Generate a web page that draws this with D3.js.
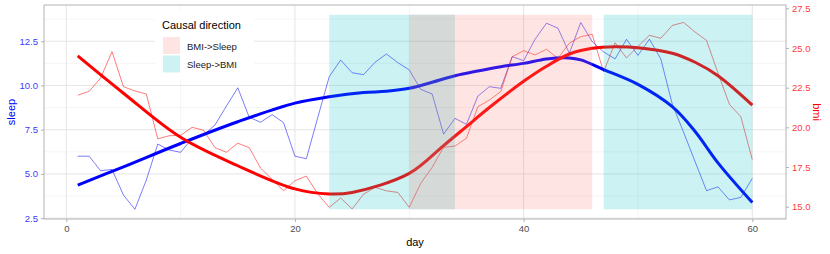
<!DOCTYPE html>
<html>
<head>
<meta charset="utf-8">
<script src="https://cdn.jsdelivr.net/npm/d3@7"></script>
<style>
  body { margin: 0; background: #fff; }
  text { font-family: "Liberation Sans", Arial, sans-serif; }
</style>
</head>
<body>
<script>
var w = 830;
var h = 254;

// raw daily values, day 1..60
var days = d3.range(1, 61);
var sleep = [6.0, 6.0, 5.18, 5.25, 3.8, 3.0, 4.65, 6.69, 6.35, 6.22,
    7.0, 7.2, 7.76, 8.83, 9.87, 8.2, 7.92, 8.35, 7.9, 6.0,
    5.86, 8.2, 10.5, 11.44, 10.72, 10.61, 11.31, 11.78, 11.29, 10.88,
    9.78, 9.52, 7.25, 8.14, 7.8, 9.4, 9.93, 9.84, 11.63, 11.4,
    12.61, 13.52, 13.24, 11.82, 13.56, 12.48, 11.9, 11.5, 12.61, 11.7,
    12.62, 11.5, 8.95, 7.34, 5.69, 4.05, 4.27, 3.53, 3.67, 4.75];
var bmi = [22.02, 22.27, 23.1, 24.77, 22.56, 22.29, 22.1, 19.28, 19.47, 19.5,
    20.0, 19.82, 18.72, 18.43, 19.0, 18.72, 17.42, 16.73, 16.0, 16.64,
    16.93, 15.8, 14.96, 15.55, 14.86, 15.78, 16.22, 16.0, 15.9, 14.96,
    16.47, 17.48, 18.74, 18.82, 19.31, 21.3, 21.72, 22.25, 24.45, 24.83,
    24.56, 24.92, 24.35, 25.3, 25.71, 25.86, 23.5, 25.33, 24.37, 25.1,
    25.8, 25.61, 26.42, 26.61, 26.0, 25.48, 23.42, 21.45, 20.67, 17.97];

// smoothed trends
var sleepSmoothDays = [1, 5, 10, 15, 20, 23, 26, 28, 30, 32, 34, 36, 38, 40, 42, 44, 45, 47, 50, 53, 55, 57, 60];
var sleepSmooth = [4.37, 5.4, 6.72, 7.95, 9.0, 9.36, 9.6, 9.67, 9.84, 10.18, 10.55, 10.82, 11.06, 11.25, 11.5, 11.56, 11.45, 10.9, 10.06, 8.8, 7.4, 5.62, 3.38];
var bmiSmoothDays = [1, 5, 10, 15, 20, 23, 25, 30, 33, 35, 37, 40, 42, 44, 46, 48, 50, 53, 55, 57, 60];
var bmiSmooth = [24.5, 22.15, 19.37, 17.58, 16.12, 15.8, 15.9, 17.1, 18.85, 20.05, 21.25, 22.9, 23.85, 24.62, 24.98, 25.08, 25.02, 24.67, 24.1, 23.25, 21.4];

// causal direction periods
var periodStart = [23, 47, 30];
var periodEnd = [34, 60, 46];
var periodType = ["Sleep->BMI", "Sleep->BMI", "BMI->Sleep"];
var periodLow = 3, periodHigh = 14;

var legendLabels = ["BMI->Sleep", "Sleep->BMI"];
var xTicks = [0, 20, 40, 60];
var sleepTicks = [2.5, 5.0, 7.5, 10.0, 12.5];
var bmiTicks = [15.0, 17.5, 20.0, 22.5, 25.0, 27.5];

var pLeft = 44, pRight = 786, pTop = 5, pBottom = 219;

var xScale = d3.scaleLinear().domain([-1.95, 62.95]).range([pLeft, pRight]);
var yScale = d3.scaleLinear().domain([2.45, 14.55]).range([pBottom, pTop]);
var bmiScale = d3.scaleLinear().domain([15, 27.5]).range([206.7, 8.3]);
var fillColor = d3.scaleOrdinal().domain(legendLabels).range(["#F8766D", "#00BFC4"]);

var svg = d3.select("body").append("svg")
    .attr("width", w)
    .attr("height", h);

/* grid */
var grid = svg.append("g");
grid.selectAll(".minx").data([10, 30, 50]).enter().append("line")
    .attr("x1", d => xScale(d)).attr("x2", d => xScale(d))
    .attr("y1", pTop).attr("y2", pBottom)
    .attr("stroke", "#efefef").attr("stroke-width", 0.6);
grid.selectAll(".miny").data([3.75, 6.25, 8.75, 11.25, 13.75]).enter().append("line")
    .attr("x1", pLeft).attr("x2", pRight)
    .attr("y1", d => yScale(d)).attr("y2", d => yScale(d))
    .attr("stroke", "#efefef").attr("stroke-width", 0.6);
grid.selectAll(".majx").data(xTicks).enter().append("line")
    .attr("x1", d => xScale(d)).attr("x2", d => xScale(d))
    .attr("y1", pTop).attr("y2", pBottom)
    .attr("stroke", "#e2e2e2").attr("stroke-width", 0.9);
grid.selectAll(".majy").data(sleepTicks).enter().append("line")
    .attr("x1", pLeft).attr("x2", pRight)
    .attr("y1", d => yScale(d)).attr("y2", d => yScale(d))
    .attr("stroke", "#e2e2e2").attr("stroke-width", 0.9);

/* lines */
var sleepLine = d3.line().x((d, i) => xScale(days[i])).y(d => yScale(d));
var bmiLine = d3.line().x((d, i) => xScale(days[i])).y(d => bmiScale(d));

svg.append("path").datum(sleep).attr("d", sleepLine)
    .attr("fill", "none").attr("stroke", "blue").attr("stroke-opacity", 0.65).attr("stroke-width", 0.8);
svg.append("path").datum(bmi).attr("d", bmiLine)
    .attr("fill", "none").attr("stroke", "red").attr("stroke-opacity", 0.65).attr("stroke-width", 0.8);

var sleepSmoothLine = d3.line().curve(d3.curveCatmullRom.alpha(0.5))
    .x((d, i) => xScale(sleepSmoothDays[i])).y(d => yScale(d));
var bmiSmoothLine = d3.line().curve(d3.curveCatmullRom.alpha(0.5))
    .x((d, i) => xScale(bmiSmoothDays[i])).y(d => bmiScale(d));

svg.append("path").datum(sleepSmooth).attr("d", sleepSmoothLine)
    .attr("fill", "none").attr("stroke", "blue").attr("stroke-width", 3);
svg.append("path").datum(bmiSmooth).attr("d", bmiSmoothLine)
    .attr("fill", "none").attr("stroke", "red").attr("stroke-width", 3);

/* shaded periods, drawn over the lines */
svg.selectAll(".period").data(periodStart).enter().append("rect")
    .attr("x", d => xScale(d))
    .attr("width", (d, i) => xScale(periodEnd[i]) - xScale(d))
    .attr("y", yScale(periodHigh))
    .attr("height", yScale(periodLow) - yScale(periodHigh))
    .attr("fill", (d, i) => fillColor(periodType[i]))
    .attr("fill-opacity", 0.2);

/* panel border */
svg.append("rect")
    .attr("x", pLeft).attr("y", pTop)
    .attr("width", pRight - pLeft).attr("height", pBottom - pTop)
    .attr("fill", "none").attr("stroke", "#b3b3b3").attr("stroke-width", 1);

/* axes */
var xAxis = d3.axisBottom(xScale).tickValues(xTicks).tickSize(3).tickPadding(3).tickFormat(d3.format("d"));
var yAxis = d3.axisLeft(yScale).tickValues(sleepTicks).tickSize(3).tickPadding(3).tickFormat(d3.format(".1f"));
var y2Axis = d3.axisRight(bmiScale).tickValues(bmiTicks).tickSize(3).tickPadding(3).tickFormat(d3.format(".1f"));

function styleAxis(g, color) {
    g.select(".domain").remove();
    g.selectAll(".tick line").attr("stroke", "#b3b3b3");
    g.selectAll(".tick text").attr("fill", color)
        .style("font-size", "9.5px")
        .style("font-family", "'Liberation Sans', Arial, sans-serif");
}

svg.append("g").attr("transform", "translate(0," + pBottom + ")").call(xAxis)
    .call(g => styleAxis(g, "#4d4d4d"));
svg.append("g").attr("transform", "translate(" + pLeft + ",0)").call(yAxis)
    .call(g => styleAxis(g, "#3b3bff"));
svg.append("g").attr("transform", "translate(" + pRight + ",0)").call(y2Axis)
    .call(g => styleAxis(g, "#ff3b3b"));

/* axis titles */
svg.append("text").attr("x", (pLeft + pRight) / 2).attr("y", 246)
    .attr("text-anchor", "middle").style("font-size", "11px").attr("fill", "#000")
    .text("day");
svg.append("text").attr("transform", "translate(15," + (pTop + pBottom) / 2 + ") rotate(-90)")
    .attr("text-anchor", "middle").style("font-size", "11px").attr("fill", "blue")
    .text("sleep");
svg.append("text").attr("transform", "translate(813," + (pTop + pBottom) / 2 + ") rotate(90)")
    .attr("text-anchor", "middle").style("font-size", "11px").attr("fill", "red")
    .text("bmi");

/* legend */
var legend = svg.append("g");
legend.append("rect").attr("x", 155).attr("y", 11).attr("width", 99).attr("height", 68).attr("fill", "#fff");
legend.append("text").attr("x", 162).attr("y", 29).style("font-size", "11px").attr("fill", "#000")
    .text("Causal direction");
var keys = legend.selectAll(".key").data(legendLabels).enter().append("g")
    .attr("transform", (d, i) => "translate(163," + (37 + i * 18.5) + ")");
keys.append("rect").attr("width", 17).attr("height", 17)
    .attr("fill", d => fillColor(d)).attr("fill-opacity", 0.2);
keys.append("text").attr("x", 24).attr("y", 12.5).style("font-size", "9.5px").attr("fill", "#1a1a1a")
    .text(d => d);
</script>
</body>
</html>
